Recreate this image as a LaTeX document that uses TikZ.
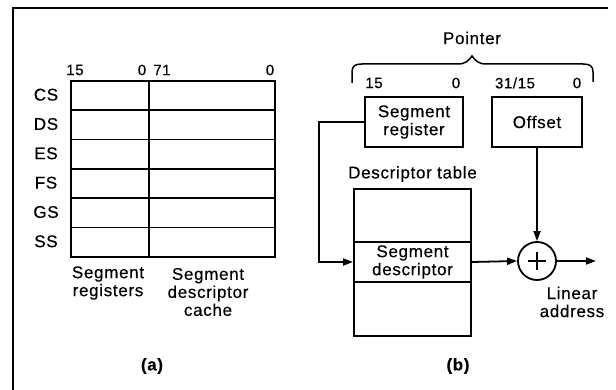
\documentclass[tikz,border=0pt]{standalone}
\usepackage{fontspec}
\setmainfont{Liberation Sans}[LetterSpace=4, FakeBold=0.4]
\usetikzlibrary{arrows.meta}

\begin{document}
\begin{tikzpicture}[x=1pt,y=-1pt,
  lbl/.style={font=\fontsize{17}{18}\selectfont, align=center, inner sep=0pt},
  num/.style={font=\fontsize{15}{16}\selectfont, inner sep=0pt},
  figtag/.style={font=\fontsize{17}{18}\selectfont\bfseries, inner sep=0pt},
  box/.style={draw, line width=1.8pt, inner sep=0pt, align=center,
              font=\fontsize{17}{18}\selectfont},
  wire/.style={line width=1.8pt},
  arr/.style={wire, -{Triangle[length=10pt,width=7pt]}}]
\useasboundingbox (0,0) rectangle (616,390);

% frame
\draw[wire] (13,390) -- (13,8) -- (608,8);

% ---------- (a) segment registers and descriptor cache ----------
\foreach \n [count=\i] in {CS,DS,ES,FS,GS,SS}{
  \node[box, minimum width=78pt, minimum height=29.33pt, anchor=north west]
    (reg\n) at (70,{80+29.33*(\i-1)}) {};
  \node[box, minimum width=126pt, minimum height=29.33pt, anchor=north west]
    (cache\n) at (148,{80+29.33*(\i-1)}) {};
  \node[lbl] (name\n) at (46,{94.7+29.33*(\i-1)}) {\n};
}
\node[num] (ra15) at (75,70) {15};
\node[num] (ra0)  at (142,70) {0};
\node[num] (ca71) at (162,70) {71};
\node[num] (ca0)  at (270,70) {0};
\node[lbl] (regcap) at (108,283) {Segment\\registers};
\node[lbl] (cachecap) at (208,292) {Segment\\descriptor\\cache};
\node[figtag] (capa) at (152,366) {(a)};

% ---------- (b) address translation ----------
\node[lbl] (pointer) at (472,38) {Pointer};
\draw[line width=1.5pt] (352,83) -- (352,72)
  .. controls (352,66) and (355,64) .. (362,64) -- (458,64)
  .. controls (466,64) and (469,60) .. (472,56)
  .. controls (475,60) and (478,64) .. (486,64) -- (583,64)
  .. controls (590,64) and (593,66) .. (593,72) -- (593,82);

\node[num] (sr15) at (374,83) {15};
\node[num] (sr0)  at (456,83) {0};
\node[num] (of31) at (515,83) {31/15};
\node[num] (of0)  at (577,83) {0};

\node[box, minimum width=98pt, minimum height=50pt] (segreg) at (414,122) {Segment\\register};
\node[box, minimum width=90pt, minimum height=50pt] (offset) at (537,122) {Offset};

\node[lbl] (dtcap) at (412.5,174) {Descriptor table};
\node[box, minimum width=117pt, minimum height=53pt] (dttop) at (412.5,215.5) {};
\node[box, minimum width=117pt, minimum height=40pt] (desc) at (412.5,262) {Segment\\descriptor};
\node[box, minimum width=117pt, minimum height=54pt] (dtbot) at (412.5,309) {};

\node[draw, circle, line width=1.8pt, minimum size=38pt, inner sep=0pt] (adder) at (537,261) {};
\draw[line width=1.1pt] ([xshift=-9pt]adder.center) -- ([xshift=9pt]adder.center);
\draw[line width=1.1pt] ([yshift=-9pt]adder.center) -- ([yshift=9pt]adder.center);

\coordinate (out) at (596,261);
\draw[arr] (segreg.west) -- ++(-45,0) |- (desc.west);
\draw[arr] (offset.south) -- (adder.north);
\draw[arr] (desc.east) -- (adder.west);
\draw[arr] (adder.east) -- (out);

\node[lbl] (lin) at (572,302) {Linear\\address};
\node[figtag] (capb) at (458,366) {(b)};
\end{tikzpicture}
\end{document}
